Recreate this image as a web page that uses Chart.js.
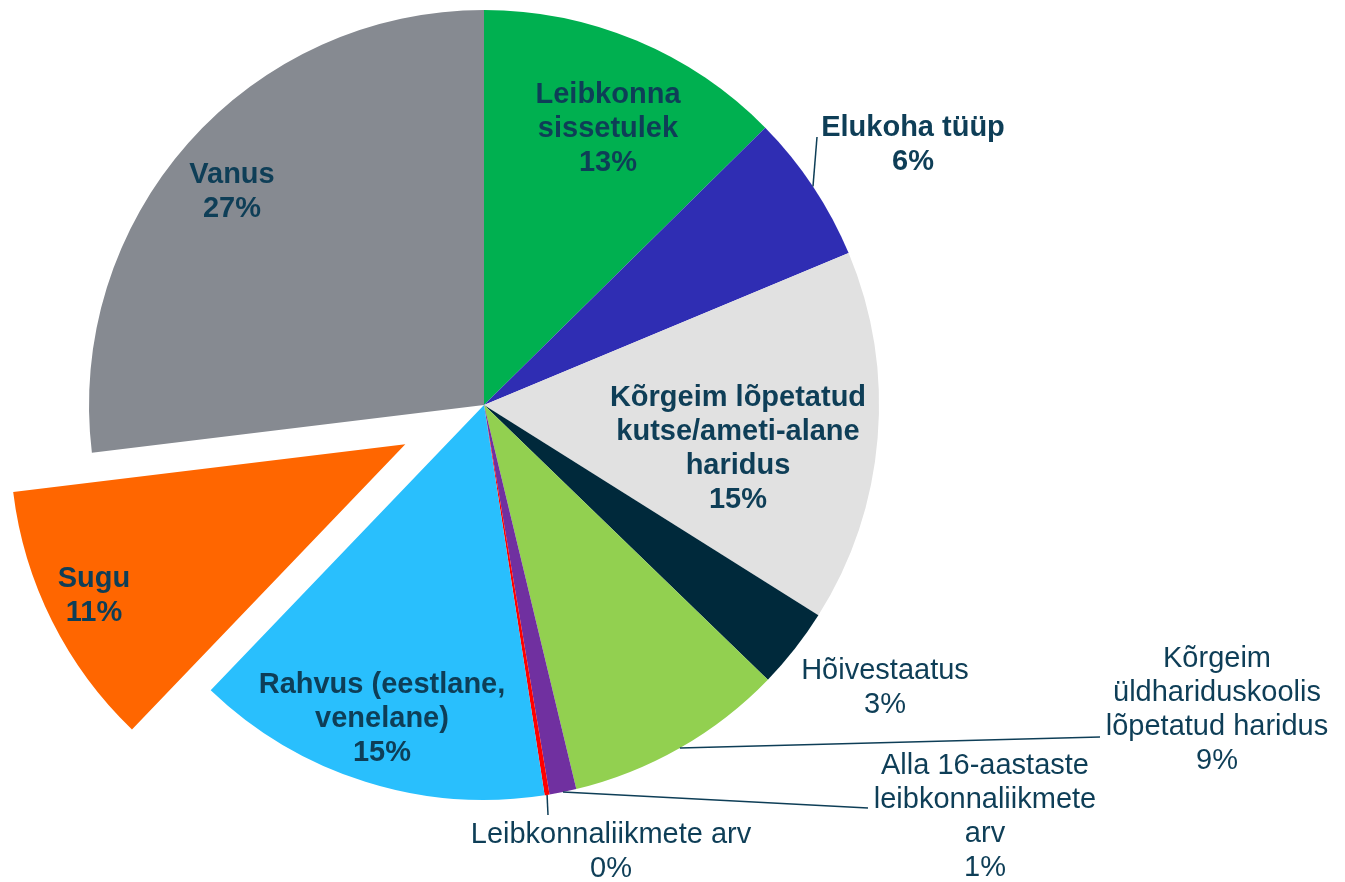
<!DOCTYPE html>
<html>
<head>
<meta charset="utf-8">
<script src="https://cdn.jsdelivr.net/npm/chart.js@4.4.1/dist/chart.umd.min.js"></script>
<style>
  html, body { margin: 0; padding: 0; background: #fff; }
  #chart { display: block; }
</style>
</head>
<body>
<canvas id="chart" width="1345" height="882"></canvas>
<script>
// andmed (osakaal, %)
const categories = [
  "Leibkonna\nsissetulek",
  "Elukoha tüüp",
  "Kõrgeim lõpetatud\nkutse/ameti-alane\nharidus",
  "Hõivestaatus",
  "Kõrgeim\nüldhariduskoolis\nlõpetatud haridus",
  "Alla 16-aastaste\nleibkonnaliikmete\narv",
  "Leibkonnaliikmete arv",
  "Rahvus (eestlane,\nvenelane)",
  "Sugu",
  "Vanus"
];
const shares = [12.6, 6.1, 15.2, 3.3, 9.0, 1.1, 0.2, 14.6, 10.9, 26.9];

// stiil
const colors = ["#00B050", "#2F2DB3", "#E1E1E1", "#00293B", "#92D050",
                "#7030A0", "#FF0000", "#29BFFD", "#FF6600", "#868A91"];
const explodeBy = [0, 0, 0, 0, 0, 0, 0, 0, 88, 0];
const textColor = "#0E3E57";

// siltide paigutus (sildi keskpunkt, soovi korral juhtjoone lõpp)
const labelSpots = [
  { x: 608, y: 129, bold: true },
  { x: 913, y: 145, bold: true, leader: [817, 137] },
  { x: 738, y: 449, bold: true },
  { x: 885, y: 688, bold: false },
  { x: 1217, y: 710, bold: false, leader: [1100, 737] },
  { x: 985, y: 817, bold: false, leader: [868, 808] },
  { x: 611, y: 852, bold: false, leader: [548, 815] },
  { x: 382, y: 719, bold: true },
  { x: 94, y: 596, bold: true },
  { x: 232, y: 192, bold: true }
];

const total = shares.reduce((a, b) => a + b, 0);

// väljatõmmatud sektor: nihutame kaare keskpunkti
const explodePlugin = {
  id: "explode",
  afterDatasetUpdate(chart, args) {
    args.meta.data.forEach((arc, i) => {
      const d = explodeBy[i] || 0;
      if (!d) return;
      const mid = (arc.startAngle + arc.endAngle) / 2;
      arc.x += Math.cos(mid) * d;
      arc.y += Math.sin(mid) * d;
    });
  }
};

const labelPlugin = {
  id: "sliceLabels",
  afterDraw(chart) {
    const ctx = chart.ctx;
    const arcs = chart.getDatasetMeta(0).data;
    ctx.save();
    arcs.forEach((arc, i) => {
      const spot = labelSpots[i];
      const mid = (arc.startAngle + arc.endAngle) / 2;
      if (spot.leader) {
        ctx.strokeStyle = textColor;
        ctx.lineWidth = 1.5;
        ctx.beginPath();
        ctx.moveTo(arc.x + Math.cos(mid) * arc.outerRadius, arc.y + Math.sin(mid) * arc.outerRadius);
        ctx.lineTo(spot.leader[0], spot.leader[1]);
        ctx.stroke();
      }
      const pct = Math.round(shares[i] / total * 100);
      const lines = categories[i].split("\n").concat(pct + "%");
      const lh = 33.7;
      const top = spot.y - (lines.length - 1) * lh / 2;
      ctx.fillStyle = textColor;
      ctx.font = (spot.bold ? "bold " : "") + '29px "Liberation Sans", Arial, sans-serif';
      ctx.textAlign = "center";
      ctx.textBaseline = "middle";
      lines.forEach((t, k) => ctx.fillText(t, spot.x, top + k * lh));
    });
    ctx.restore();
  }
};

new Chart(document.getElementById("chart"), {
  type: "pie",
  data: {
    labels: categories.map(c => c.replace(/\n/g, " ")),
    datasets: [{
      data: shares,
      backgroundColor: colors,
      borderWidth: 0
    }]
  },
  options: {
    responsive: false,
    animation: false,
    radius: 395,
    layout: { padding: { left: 0, top: 0, right: 377, bottom: 72 } },
    plugins: {
      legend: { display: false },
      title: { display: false },
      tooltip: { enabled: true }
    }
  },
  plugins: [explodePlugin, labelPlugin]
});
</script>
</body>
</html>
